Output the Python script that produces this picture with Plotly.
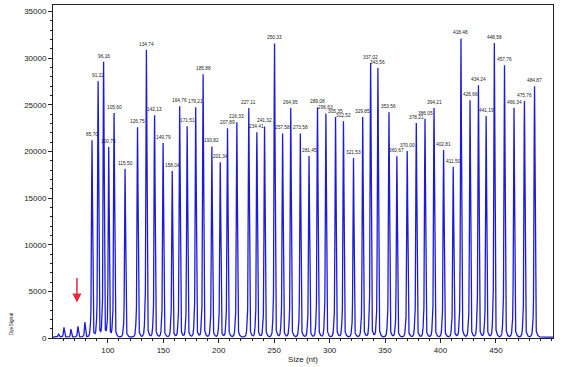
import numpy as np
import plotly.graph_objects as go

# Peak sizes (nt) and heights (DyeSignal)
peak_sizes = [85.70, 91.22, 96.16, 100.75, 105.60, 115.50, 126.75, 134.74, 142.13, 149.79,
              158.04, 164.76, 171.51, 179.21, 185.88, 193.82, 201.34, 207.89, 216.33, 227.11,
              234.41, 241.32, 250.33, 257.58, 264.95, 273.58, 281.45, 289.08, 296.63, 305.35,
              312.52, 321.53, 329.85, 337.02, 343.56, 353.56, 360.67, 370.00, 378.21, 386.05,
              394.21, 402.81, 411.50, 418.48, 426.66, 434.24, 441.19, 448.58, 457.76, 466.34,
              475.76, 484.87]
peak_heights = [21200, 27550, 29600, 20450, 24100, 18150, 22600, 30900, 23900, 20900,
                17900, 24850, 22700, 24750, 28300, 20550, 18850, 22500, 23150, 24650,
                22050, 22700, 31600, 21950, 24650, 21950, 19500, 24750, 24100, 23700,
                23250, 19300, 23700, 29500, 28950, 24200, 19500, 20050, 23050, 23500,
                24650, 20150, 18350, 32150, 25500, 27100, 23800, 31650, 29250, 24700,
                25400, 27000]

# small early peaks (unlabelled)
small_sizes = [55.5, 60.4, 66.7, 73.0, 79.3]
small_heights = [450, 1150, 950, 1250, 1700]

x_ticks = [100, 150, 200, 250, 300, 350, 400, 450]
y_ticks = [0, 5000, 10000, 15000, 20000, 25000, 30000, 35000]

x = np.arange(50.5, 501.5, 0.05)
base = 100
y = np.zeros_like(x) + base
for s, h in zip(peak_sizes + small_sizes, peak_heights + small_heights):
    a = (h - base) / 1.035
    y += a * np.exp(-0.5 * ((x - s) / 0.45) ** 2)
    y += 0.035 * a * np.exp(-0.5 * ((x - s) / 1.6) ** 2)
    y += 0.04 * a * np.exp(-0.5 * ((x - s + 1.4) / 0.4) ** 2)

fig = go.Figure()
fig.add_trace(go.Scatter(x=x, y=y, mode="lines",
                         line=dict(color="#1c1cd8", width=1.3), hoverinfo="skip"))

for s, h in zip(peak_sizes, peak_heights):
    fig.add_annotation(x=s, y=h, text=f"{s:.2f}".replace(".", ","), showarrow=False,
                       yanchor="bottom", yshift=1,
                       font=dict(size=4.8, color="#222222", family="Liberation Sans, Arial"))

# red arrow
fig.add_annotation(x=72.1, y=3800, ax=0, ay=-26, showarrow=True, arrowhead=2,
                   arrowsize=1.2, arrowwidth=1.5, arrowcolor="#e8283c", text="")

# y title
fig.add_annotation(xref="paper", yref="paper", x=-0.086, y=0.0, xanchor="center",
                   yanchor="bottom", textangle=-90, text="DyeSignal", showarrow=False,
                   font=dict(size=5, color="#222222", family="Liberation Sans, Arial"))

fig.update_layout(
    width=569, height=367,
    margin=dict(l=53, r=16, t=5, b=29, autoexpand=False),
    paper_bgcolor="white", plot_bgcolor="white",
    showlegend=False,
    font=dict(family="Liberation Sans, Arial", size=8, color="#222222"),
    xaxis=dict(range=[50.5, 501.5], tickvals=x_ticks, ticks="outside", ticklen=4,
               tickwidth=1, tickcolor="#222", showline=True, linecolor="#222",
               linewidth=1, mirror=True, showgrid=False, zeroline=False,
               minor=dict(dtick=10, ticks="outside", ticklen=2, tickcolor="#222"),
               title=dict(text="Size (nt)", font=dict(size=8), standoff=2),
               tickfont=dict(size=8), automargin=False),
    yaxis=dict(range=[0, 35700], tickvals=y_ticks, tickformat="d", ticks="outside", ticklen=4,
               tickwidth=1, tickcolor="#222", showline=True, linecolor="#222",
               linewidth=1, mirror=True, showgrid=False, zeroline=False,
               minor=dict(dtick=1000, ticks="outside", ticklen=2, tickcolor="#222"),
               tickfont=dict(size=8), automargin=False),
)

fig.write_html("out.html", config={"displayModeBar": False},
               post_script="document.body.style.margin='0';")
